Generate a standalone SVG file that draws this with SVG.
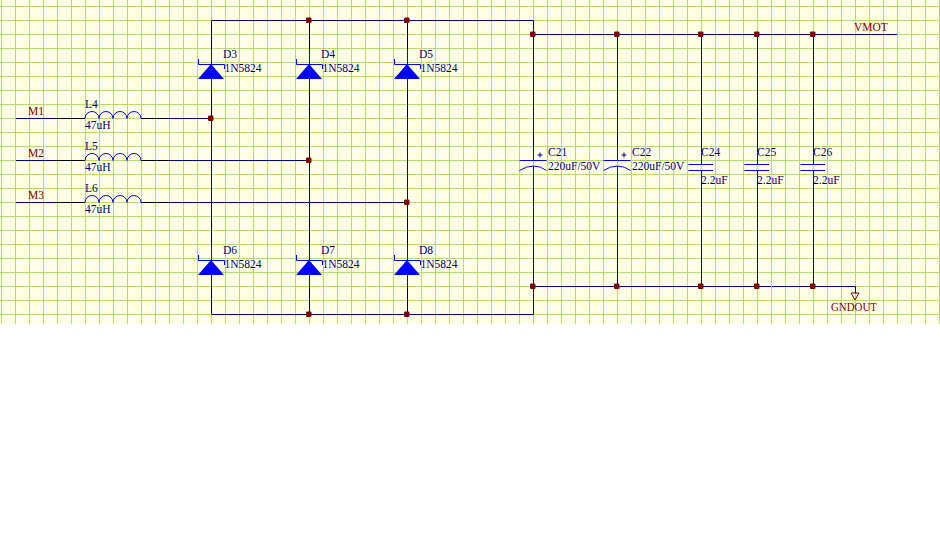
<svg xmlns="http://www.w3.org/2000/svg" width="940" height="540" viewBox="0 0 940 540">
<style>
.w{fill:none;stroke:#000080;stroke-width:1}
.k{fill:none;stroke:#000;stroke-width:1}
.b{fill:none;stroke:#0000ff;stroke-width:1}
.f{fill:#0000ff;stroke:none}
.j{fill:#800000;stroke:none}
text{font-family:"Liberation Serif","Times New Roman",serif;font-size:11.5px}
.d{fill:#000080}
.n{fill:#800000}
</style>
<defs>
<pattern id="grid" width="14" height="14" patternUnits="userSpaceOnUse" x="1" y="6">
<rect width="14" height="14" fill="#ffffe6"/>
<path d="M0.5 0V14M0 0.5H14" stroke="#b4dc6e" stroke-width="1" fill="none"/>
</pattern>
<g id="diode"><path class="b" d="M-13 -20V-14.500H13V-10M0 -29V-14.500M0 0V11"/><path class="f" d="M-0.500 -15L12.500 0H-13.500Z"/></g>
<g id="coil"><path class="b" d="M0 0A7 7 0 0 1 14 0A7 7 0 0 1 28 0A7 7 0 0 1 42 0A7 7 0 0 1 56 0"/></g>
<g id="polar"><path class="b" d="M-14 0H13M0 -14V0M-14 10Q-7 5.500 0 5.500Q7 5.500 13 10M0 5.500V28"/><path class="w" d="M4 -5.500H9M6.500 -8V-3"/></g>
<g id="plain"><path class="b" d="M-13 0H11.500M-13 6H11.500M0 -12V0M0 6V18"/></g>
</defs>
<rect width="940" height="540" fill="#ffffff"/>
<rect x="0" y="0" width="940" height="324" fill="url(#grid)"/>
<g id="connectors">
<path class="w" d="M211.500 20.500H533.500V133M533.500 203V314.500H211.500"/>
<path class="k" d="M211.500 20.500V50M309.500 20.500V50M407.500 20.500V50M211.500 90V117M309.500 90V117M407.500 90V117M211.500 217V250M309.500 217V250M407.500 217V250M211.500 285V314M309.500 285V314M407.500 285V314M533.500 133V147M617.500 133V147M533.500 188V203M617.500 188V203"/>
<path class="w" d="M211.500 117V217M309.500 117V217M407.500 117V217"/>
<path class="w" d="M617.500 34V133M617.500 203V286M701.500 34V152M701.500 182V286M757.500 34V152M757.500 182V286M813.500 34V152M813.500 182V286"/>
<path class="w" d="M533.500 34.500H897M533.500 286.500H771M772 286.500H855.500V293"/>
<path class="w" d="M16 118.500H55M170 118.500H211M16 160.500H55M170 160.500H309M16 202.500H55M170 202.500H407"/>
<path class="k" d="M55 118.500H85M55 160.500H85M55 202.500H85M141 118.500H170M141 160.500H170M141 202.500H170"/>
</g>
<g id="M1"><text class="n" x="28" y="115">M1</text></g>
<g id="M2"><text class="n" x="28" y="157">M2</text></g>
<g id="M3"><text class="n" x="28" y="199">M3</text></g>
<g id="L4"><use href="#coil" x="85" y="118.500"/><text class="d" x="85" y="107.500">L4</text><text class="d" x="85" y="129">47uH</text></g>
<g id="L5"><use href="#coil" x="85" y="160.500"/><text class="d" x="85" y="149.500">L5</text><text class="d" x="85" y="171">47uH</text></g>
<g id="L6"><use href="#coil" x="85" y="202.500"/><text class="d" x="85" y="191.500">L6</text><text class="d" x="85" y="213">47uH</text></g>
<g id="D3"><use href="#diode" x="211.500" y="79"/><text class="d" x="223" y="58">D3</text><text class="d" x="224.500" y="72">1N5824</text></g>
<g id="D4"><use href="#diode" x="309.500" y="79"/><text class="d" x="321" y="58">D4</text><text class="d" x="322.500" y="72">1N5824</text></g>
<g id="D5"><use href="#diode" x="407.500" y="79"/><text class="d" x="419" y="58">D5</text><text class="d" x="420.500" y="72">1N5824</text></g>
<g id="D6"><use href="#diode" x="211.500" y="275"/><text class="d" x="223" y="254">D6</text><text class="d" x="224.500" y="268">1N5824</text></g>
<g id="D7"><use href="#diode" x="309.500" y="275"/><text class="d" x="321" y="254">D7</text><text class="d" x="322.500" y="268">1N5824</text></g>
<g id="D8"><use href="#diode" x="407.500" y="275"/><text class="d" x="419" y="254">D8</text><text class="d" x="420.500" y="268">1N5824</text></g>
<g id="C21"><use href="#polar" x="533.500" y="160.500"/><text class="d" x="548" y="156">C21</text><text class="d" x="548" y="170">220uF/50V</text></g>
<g id="C22"><use href="#polar" x="617.500" y="160.500"/><text class="d" x="632" y="156">C22</text><text class="d" x="632" y="170">220uF/50V</text></g>
<g id="C24"><use href="#plain" x="701.500" y="164.500"/><text class="d" x="701" y="156">C24</text><text class="d" x="701" y="184">2.2uF</text></g>
<g id="C25"><use href="#plain" x="757.500" y="164.500"/><text class="d" x="757" y="156">C25</text><text class="d" x="757" y="184">2.2uF</text></g>
<g id="C26"><use href="#plain" x="813.500" y="164.500"/><text class="d" x="813" y="156">C26</text><text class="d" x="813" y="184">2.2uF</text></g>
<g id="VMOT"><text class="n" x="854" y="31">VMOT</text></g>
<g id="GNDOUT"><path d="M851 293H859L855 300Z" fill="none" stroke="#800000"/><text class="n" x="831" y="311" textLength="46" lengthAdjust="spacingAndGlyphs">GNDOUT</text></g>
<g id="junctions">
<rect class="j" x="306" y="17.500" width="5.500" height="5.500" rx="1.200"/><rect class="j" x="404" y="17.500" width="5.500" height="5.500" rx="1.200"/>
<rect class="j" x="208" y="115.500" width="5.500" height="5.500" rx="1.200"/><rect class="j" x="306" y="157.500" width="5.500" height="5.500" rx="1.200"/><rect class="j" x="404" y="199.500" width="5.500" height="5.500" rx="1.200"/>
<rect class="j" x="306" y="311.500" width="5.500" height="5.500" rx="1.200"/><rect class="j" x="404" y="311.500" width="5.500" height="5.500" rx="1.200"/>
<rect class="j" x="530" y="31.500" width="5.500" height="5.500" rx="1.200"/><rect class="j" x="614" y="31.500" width="5.500" height="5.500" rx="1.200"/><rect class="j" x="698" y="31.500" width="5.500" height="5.500" rx="1.200"/><rect class="j" x="754" y="31.500" width="5.500" height="5.500" rx="1.200"/><rect class="j" x="810" y="31.500" width="5.500" height="5.500" rx="1.200"/>
<rect class="j" x="530" y="283.500" width="5.500" height="5.500" rx="1.200"/><rect class="j" x="614" y="283.500" width="5.500" height="5.500" rx="1.200"/><rect class="j" x="698" y="283.500" width="5.500" height="5.500" rx="1.200"/><rect class="j" x="754" y="283.500" width="5.500" height="5.500" rx="1.200"/><rect class="j" x="810" y="283.500" width="5.500" height="5.500" rx="1.200"/>
</g>
</svg>
